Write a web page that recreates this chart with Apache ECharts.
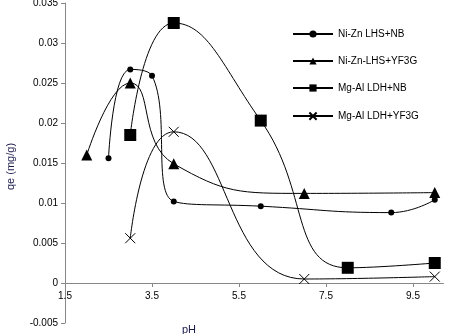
<!DOCTYPE html>
<html><head><meta charset="utf-8">
<script src="https://cdn.jsdelivr.net/npm/echarts@6/dist/echarts.min.js"></script>
<style>html,body{margin:0;padding:0;background:#fff}#c{width:450px;height:334px}</style>
</head><body><div id="c"></div>
<script>
const seriesNames = ['Ni-Zn LHS+NB', 'Ni-Zn-LHS+YF3G', 'Mg-Al LDH+NB', 'Mg-Al LDH+YF3G'];
const niZnNB_x = [2.5, 3, 3.5, 4, 6, 9, 10];
const niZnNB_y = [0.0156, 0.0267, 0.0259, 0.0102, 0.0096, 0.0088, 0.0104];
const niZnYF_x = [2, 3, 4, 7, 10];
const niZnYF_y = [0.016, 0.025, 0.0149, 0.0112, 0.0113];
const mgAlNB_x = [3, 4, 6, 8, 10];
const mgAlNB_y = [0.0185, 0.0325, 0.0203, 0.0019, 0.0025];
const mgAlYF_x = [3, 4, 7, 10];
const mgAlYF_y = [0.0056, 0.0189, 0.0005, 0.0008];
const xTicks = {min: 1.5, max: 10.2, interval: 2};
const yTicks = {min: -0.005, max: 0.035, interval: 0.005};

const pair = (xs, ys) => xs.map((x, i) => [x, ys[i]]);
const chart = echarts.init(document.getElementById('c'));
const font = 'Liberation Sans, Arial, sans-serif';
const mk = (name, data, symbol, size, extra) => Object.assign({
  name, type: 'line', data: data, smooth: 0.5, symbol, symbolSize: size,
  lineStyle: {color: '#000', width: 1},
  itemStyle: {color: '#000'}
}, extra || {});
chart.setOption({
  animation: false,
  grid: {left: 65, top: 3, width: (xTicks.max - xTicks.min) * 43.5, height: 320, containLabel: false, outerBoundsMode: 'none'},
  xAxis: {
    type: 'value', min: xTicks.min, max: xTicks.max, interval: xTicks.interval,
    position: 'bottom', offset: -40,
    splitLine: {show: false},
    axisLine: {onZero: false, lineStyle: {color: '#888'}},
    axisTick: {show: true, length: 4, lineStyle: {color: '#888'}},
    axisLabel: {color: '#000', fontSize: 10, fontFamily: font, margin: 8, showMaxLabel: false,
      formatter: v => v.toFixed(1)}
  },
  yAxis: {
    type: 'value', min: yTicks.min, max: yTicks.max, interval: yTicks.interval,
    splitLine: {show: false},
    axisLine: {show: true, onZero: false, lineStyle: {color: '#888'}},
    axisTick: {show: true, length: 4, lineStyle: {color: '#888'}},
    axisLabel: {color: '#000', fontSize: 10, fontFamily: font, margin: 7}
  },
  legend: {
    orient: 'vertical', left: 287, top: 24, itemGap: 17, itemWidth: 40, itemHeight: 9,
    textStyle: {color: '#000', fontSize: 10, fontFamily: font},
    data: seriesNames
  },
  graphic: [
    {type: 'text', left: 182, top: 324, style: {text: 'pH', fontSize: 11, fontFamily: font, fill: '#1a1a4a'}},
    {type: 'text', x: 5, y: 190, rotation: Math.PI / 2, style: {text: 'qe (mg/g)', fontSize: 11, fontFamily: font, fill: '#1a1a4a'}}
  ],
  series: [
    mk(seriesNames[0], pair(niZnNB_x, niZnNB_y), 'circle', 6),
    mk(seriesNames[1], pair(niZnYF_x, niZnYF_y), 'triangle', 11),
    mk(seriesNames[2], pair(mgAlNB_x, mgAlNB_y), 'rect', 12),
    mk(seriesNames[3], pair(mgAlYF_x, mgAlYF_y), 'path://M0,0L10,10M10,0L0,10', 10,
      {itemStyle: {color: 'none', borderColor: '#000', borderWidth: 1}})
  ]
});
</script></body></html>
